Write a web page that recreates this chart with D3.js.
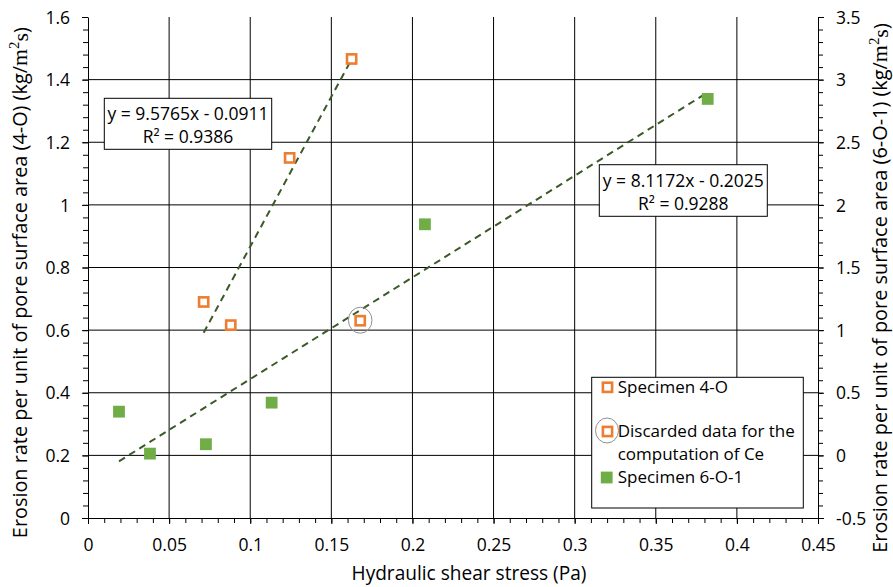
<!DOCTYPE html>
<html>
<head>
<meta charset="utf-8">
<script src="https://cdn.jsdelivr.net/npm/d3@7"></script>
<style>
  html, body { margin: 0; padding: 0; background: #fff; }
  svg { display: block; font-family: "Open Sans", sans-serif; }
</style>
</head>
<body>
<svg id="chart" width="893" height="587"></svg>
<script>
// ---------------- data ----------------
const spec4X = [0.0713, 0.0880, 0.1243, 0.1625];
const spec4Y = [0.690, 0.616, 1.150, 1.466];
const discardX = [0.1678];
const discardY = [0.630];
const spec6X = [0.0191, 0.0382, 0.0727, 0.1132, 0.2077, 0.3820];
const spec6Y = [0.349, 0.014, 0.089, 0.421, 1.845, 2.846];
const trendSlope = [9.5765, 8.1172];
const trendIntercept = [-0.0911, -0.2025];
const trendEqLabels = ["y = 9.5765x - 0.0911", "y = 8.1172x - 0.2025"];
const trendR2Labels = ["R\u00B2 = 0.9386", "R\u00B2 = 0.9288"];
const xTickValues = [0, 0.05, 0.1, 0.15, 0.2, 0.25, 0.3, 0.35, 0.4, 0.45];
const yLeftTickValues = [0, 0.2, 0.4, 0.6, 0.8, 1, 1.2, 1.4, 1.6];
const yRightTickValues = [-0.5, 0, 0.5, 1, 1.5, 2, 2.5, 3, 3.5];
const xMinorValues = d3.range(0, 46).map(i => i / 100);
const yLeftMinorValues = d3.range(0, 41).map(i => i * 0.04);
const yRightMinorValues = d3.range(-5, 36).map(i => i / 10);
const legendLabels = [["Specimen 4-O"], ["Discarded data for the", "computation of Ce"], ["Specimen 6-O-1"]];
const xTitle = "Hydraulic shear stress (Pa)";
const yLeftTitle = "Erosion rate per unit of pore surface area (4-O) ";
const yRightTitle = "Erosion rate per unit of pore surface area (6-O-1) ";

// ---------------- layout ----------------
const L = 88, R = 818, T = 17, B = 518;
const ORANGE = "#ED7D31", GREEN = "#70AD47", TREND = "#3A5A28";
const FS = 17.5;
const fmt = v => String(+v.toFixed(2));

const svg = d3.select("#chart");
const x = d3.scaleLinear().domain([0, 0.45]).range([L, R]);
const yL = d3.scaleLinear().domain([0, 1.6]).range([B, T]);
const yR = d3.scaleLinear().domain([-0.5, 3.5]).range([B, T]);

// gridlines
const grid = svg.append("g").attr("stroke", "#000").attr("stroke-width", 1);
grid.selectAll("line.v").data(xTickValues.filter(v => v > 0 && v < 0.45)).join("line")
  .attr("x1", d => x(d)).attr("x2", d => x(d)).attr("y1", T).attr("y2", B);
grid.selectAll("line.h").data(yLeftTickValues.filter(v => v > 0 && v < 1.6)).join("line")
  .attr("x1", L).attr("x2", R).attr("y1", d => yL(d)).attr("y2", d => yL(d));

// minor ticks
function minor(g, axisGen) { g.call(axisGen); g.select(".domain").remove(); g.selectAll("text").remove(); g.selectAll("line").attr("stroke", "#000"); }
svg.append("g").attr("transform", `translate(0,${B})`)
  .call(g => minor(g, d3.axisBottom(x).tickValues(xMinorValues).tickSize(5)));
svg.append("g").attr("transform", `translate(${L},0)`)
  .call(g => minor(g, d3.axisLeft(yL).tickValues(yLeftMinorValues).tickSize(5)));
svg.append("g").attr("transform", `translate(${R},0)`)
  .call(g => minor(g, d3.axisRight(yR).tickValues(yRightMinorValues).tickSize(5)));

// major axes
function styleAxis(g) {
  g.select(".domain").attr("stroke", "#000").attr("stroke-width", 1);
  g.selectAll(".tick line").attr("stroke", "#000");
  g.selectAll("text").attr("fill", "#000").attr("font-size", FS).attr("font-family", "Open Sans");
}
svg.append("g").attr("transform", `translate(0,${B})`)
  .call(d3.axisBottom(x).tickValues(xTickValues).tickFormat(fmt).tickSize(6).tickSizeOuter(0))
  .call(styleAxis)
  .call(g => g.selectAll("text").attr("y", 32.7).attr("dy", 0));
svg.append("g").attr("transform", `translate(${L},0)`)
  .call(d3.axisLeft(yL).tickValues(yLeftTickValues).tickFormat(fmt).tickSize(6).tickSizeOuter(0))
  .call(styleAxis)
  .call(g => g.selectAll("text").attr("x", -18).attr("dy", 6.2));
svg.append("g").attr("transform", `translate(${R},0)`)
  .call(d3.axisRight(yR).tickValues(yRightTickValues).tickFormat(fmt).tickSize(6).tickSizeOuter(0))
  .call(styleAxis)
  .call(g => g.selectAll("text").attr("x", 18).attr("dy", 6.2));

// trendlines
const trends = [
  { s: trendSlope[0], b: trendIntercept[0], xs: spec4X, y: yL },
  { s: trendSlope[1], b: trendIntercept[1], xs: spec6X, y: yR }
];
trends.forEach(t => {
  const x0 = d3.min(t.xs), x1 = d3.max(t.xs);
  svg.append("line")
    .attr("x1", x(x0)).attr("y1", t.y(t.s * x0 + t.b))
    .attr("x2", x(x1)).attr("y2", t.y(t.s * x1 + t.b))
    .attr("stroke", TREND).attr("stroke-width", 2).attr("stroke-dasharray", "7,5");
});

// markers
const MS = 9.2; // hollow inner size
svg.append("g").selectAll("rect").data(spec4X.map((d, i) => [d, spec4Y[i]])).join("rect")
  .attr("x", d => x(d[0]) - MS / 2).attr("y", d => yL(d[1]) - MS / 2)
  .attr("width", MS).attr("height", MS)
  .attr("fill", "none").attr("stroke", ORANGE).attr("stroke-width", 2.6);
svg.append("g").selectAll("rect").data(discardX.map((d, i) => [d, discardY[i]])).join("rect")
  .attr("x", d => x(d[0]) - MS / 2).attr("y", d => yL(d[1]) - MS / 2)
  .attr("width", MS).attr("height", MS)
  .attr("fill", "none").attr("stroke", ORANGE).attr("stroke-width", 2.6);
svg.append("g").selectAll("ellipse").data(discardX.map((d, i) => [d, discardY[i]])).join("ellipse")
  .attr("cx", d => x(d[0])).attr("cy", d => yL(d[1]) - 0.5).attr("rx", 11.8).attr("ry", 13)
  .attr("fill", "none").attr("stroke", "#8f8f8f").attr("stroke-width", 1);
const GS = 11.8;
svg.append("g").selectAll("rect").data(spec6X.map((d, i) => [d, spec6Y[i]])).join("rect")
  .attr("x", d => x(d[0]) - GS / 2).attr("y", d => yR(d[1]) - GS / 2)
  .attr("width", GS).attr("height", GS).attr("fill", GREEN);

// trendline labels
const eqBoxes = [
  { cx: 188, top: 98.3, w: 167.4, h: 51 },
  { cx: 683.3, top: 164.7, w: 168, h: 51.6 }
];
eqBoxes.forEach((bx, i) => {
  const g = svg.append("g");
  g.append("rect").attr("x", bx.cx - bx.w / 2).attr("y", bx.top).attr("width", bx.w).attr("height", bx.h)
    .attr("fill", "#fff").attr("stroke", "#000").attr("stroke-width", 1);
  g.append("text").attr("x", bx.cx).attr("y", bx.top + 21.8).attr("text-anchor", "middle")
    .attr("font-size", FS).text(trendEqLabels[i]);
  g.append("text").attr("x", bx.cx).attr("y", bx.top + 45).attr("text-anchor", "middle")
    .attr("font-size", FS).text(trendR2Labels[i]);
});

// legend
const lg = svg.append("g");
lg.append("rect").attr("x", 591.7).attr("y", 377.3).attr("width", 211.6).attr("height", 130.7)
  .attr("fill", "#fff").attr("stroke", "#000").attr("stroke-width", 1);
const mx = 607.5;
lg.append("rect").attr("x", mx - MS / 2).attr("y", 387.3 - MS / 2).attr("width", MS).attr("height", MS)
  .attr("fill", "none").attr("stroke", ORANGE).attr("stroke-width", 2.6);
lg.append("rect").attr("x", mx - MS / 2).attr("y", 431.5 - MS / 2).attr("width", MS).attr("height", MS)
  .attr("fill", "none").attr("stroke", ORANGE).attr("stroke-width", 2.6);
lg.append("ellipse").attr("cx", mx - 0.5).attr("cy", 430.5).attr("rx", 11.5).attr("ry", 12.5)
  .attr("fill", "none").attr("stroke", "#8f8f8f").attr("stroke-width", 1);
lg.append("rect").attr("x", 606.7 - GS / 2).attr("y", 477.5 - GS / 2).attr("width", GS).attr("height", GS)
  .attr("fill", GREEN);
const legBase = [393.3, 436.9, 483.2];
legendLabels.forEach((lines, i) => {
  const t = lg.append("text").attr("x", 617.7).attr("y", legBase[i]).attr("font-size", 17);
  lines.forEach((ln, j) => {
    t.append("tspan").attr("x", 617.7).attr("dy", j === 0 ? 0 : 22.8).text(ln);
  });
});

// fit helper
function fitWidth(sel, target) {
  const w = sel.node().getComputedTextLength();
  const fs = parseFloat(sel.attr("font-size"));
  sel.attr("font-size", fs * target / w);
}

// axis titles
const xt = svg.append("text").attr("x", 469).attr("y", 579.7).attr("text-anchor", "middle")
  .attr("font-size", 19).text(xTitle);
fitWidth(xt, 235);

function yTitle(main, cx, cy, target) {
  const t = svg.append("text").attr("transform", `translate(${cx},${cy}) rotate(-90)`)
    .attr("text-anchor", "middle").attr("font-size", 19);
  t.append("tspan").text(main + "(kg/");
  t.append("tspan").attr("font-family", "Liberation Serif").attr("font-size", "1.1em").text("m");
  t.append("tspan").attr("font-family", "Liberation Serif").attr("font-size", "0.75em").attr("dy", "-0.55em").text("2");
  t.append("tspan").attr("font-family", "Liberation Serif").attr("font-size", "1.1em").attr("dy", "0.41em").text("s");
  t.append("tspan").text(")");
  const w = t.node().getComputedTextLength();
  t.attr("font-size", 19 * target / w);
  return t;
}
yTitle(yLeftTitle, 27, 282.7, 511);
yTitle(yRightTitle, 887, 288, 530);
</script>
</body>
</html>
